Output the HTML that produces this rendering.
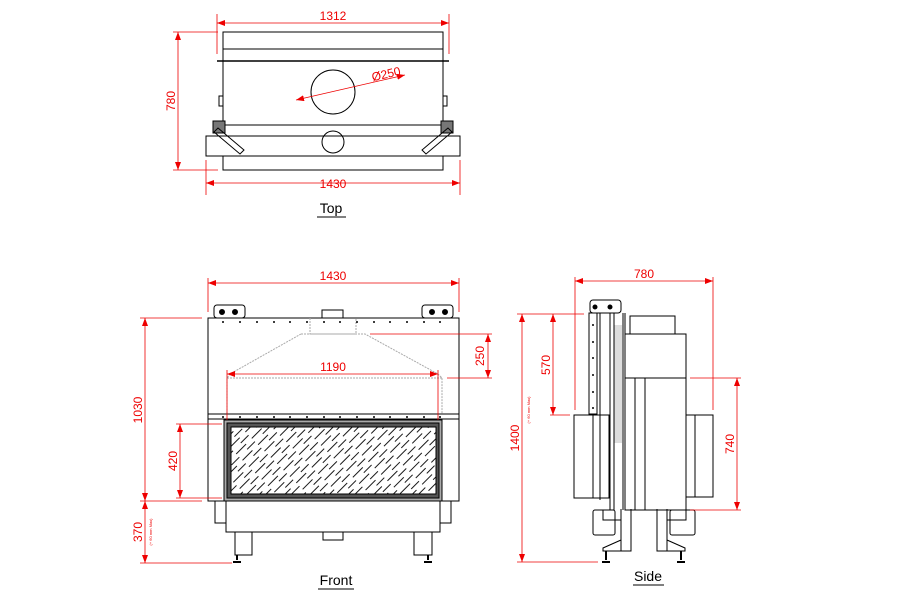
<!DOCTYPE html>
<html><head><meta charset="utf-8"><style>body{margin:0;background:#fff}svg{display:block}</style></head>
<body>
<svg width="900" height="600" viewBox="0 0 900 600" xmlns="http://www.w3.org/2000/svg" font-family="Liberation Sans, sans-serif">
<defs>
<pattern id="h" width="22" height="9" patternUnits="userSpaceOnUse" patternTransform="rotate(-45)">
<line x1="0" y1="2" x2="14" y2="2" stroke="#000" stroke-width="0.9"/>
<line x1="11" y1="6.5" x2="22" y2="6.5" stroke="#000" stroke-width="0.9"/>
</pattern>
<marker id="a" markerWidth="8" markerHeight="6" refX="8" refY="3" orient="auto-start-reverse" markerUnits="userSpaceOnUse"><path d="M0,0 L8,3 L0,6z" fill="#e00"/></marker>
</defs>
<g fill="none" stroke="#000" stroke-width="1">
<!-- TOP VIEW -->
<rect x="223" y="32" width="220" height="93"/>
<line x1="223" y1="49" x2="443" y2="49"/>
<line x1="217" y1="61" x2="449" y2="61" stroke-width="1.5"/>
<rect x="219" y="96" width="4" height="10"/><rect x="443" y="96" width="4" height="10"/>
<circle cx="333" cy="92" r="22"/>
<rect x="206" y="136" width="254" height="20"/>
<rect x="223" y="156" width="220" height="14"/>
<circle cx="333" cy="142" r="11"/>
<rect x="213" y="121" width="12" height="12" fill="#777"/><rect x="441" y="121" width="12" height="12" fill="#777"/>
<path d="M218,128 L244,150 L240,154 L214,132z"/><path d="M448,128 L422,150 L426,154 L452,132z"/>
<!-- FRONT VIEW -->
<rect x="208" y="318" width="251" height="183"/>
<line x1="208" y1="414" x2="459" y2="414"/><line x1="208" y1="419" x2="459" y2="419"/>
<rect x="224" y="420" width="218" height="81" fill="#aaa"/>
<rect x="227" y="423" width="212" height="75" fill="#555"/>
<rect x="231" y="427" width="205" height="67" fill="#fff"/>
<rect x="231" y="427" width="205" height="67" fill="url(#h)" stroke="#000"/>
<rect x="226" y="501" width="214" height="31"/>
<rect x="215" y="501" width="11" height="22"/><rect x="440" y="501" width="11" height="22"/>
<rect x="235" y="532" width="17" height="23"/><rect x="414" y="532" width="18" height="23"/>
<rect x="323" y="532" width="20" height="8"/>
<path d="M237,555 L237,560 M233,562 L241,562 M428,555 L428,560 M424,562 L432,562" stroke-width="2"/>
<rect x="214" y="305" width="31" height="13" rx="3"/><rect x="422" y="305" width="31" height="13" rx="3"/>
<circle cx="222" cy="312" r="2.5" fill="#000"/><circle cx="235" cy="312" r="2.5" fill="#000"/>
<circle cx="432" cy="312" r="2.5" fill="#000"/><circle cx="445" cy="312" r="2.5" fill="#000"/>
<rect x="322" y="310" width="21" height="8"/>
<g stroke="#aaa" stroke-dasharray="2,1"><path d="M310,318 L310,334 L356,334 L356,318"/><path d="M301,334 L365,334 L438,374 L442,378 L442,414 M301,334 L230,374 L227,378 L227,414 M227,378 L442,378"/></g>
<g fill="#000" stroke="none">
<circle cx="223" cy="322" r="1"/><circle cx="240" cy="322" r="1"/><circle cx="257" cy="322" r="1"/><circle cx="274" cy="322" r="1"/><circle cx="290" cy="322" r="1"/><circle cx="307" cy="322" r="1"/><circle cx="324" cy="322" r="1"/><circle cx="340" cy="322" r="1"/><circle cx="357" cy="322" r="1"/><circle cx="374" cy="322" r="1"/><circle cx="390" cy="322" r="1"/><circle cx="407" cy="322" r="1"/><circle cx="424" cy="322" r="1"/><circle cx="440" cy="322" r="1"/>
<circle cx="223" cy="417" r="1"/><circle cx="240" cy="417" r="1"/><circle cx="257" cy="417" r="1"/><circle cx="274" cy="417" r="1"/><circle cx="290" cy="417" r="1"/><circle cx="307" cy="417" r="1"/><circle cx="324" cy="417" r="1"/><circle cx="340" cy="417" r="1"/><circle cx="357" cy="417" r="1"/><circle cx="374" cy="417" r="1"/><circle cx="390" cy="417" r="1"/><circle cx="407" cy="417" r="1"/><circle cx="424" cy="417" r="1"/><circle cx="440" cy="417" r="1"/>
</g>
<!-- SIDE VIEW -->
<rect x="590" y="300" width="31" height="13" rx="3"/>
<circle cx="595" cy="307" r="2" fill="#000"/><circle cx="610" cy="307" r="2" fill="#000"/>
<rect x="589" y="313" width="8" height="101"/>
<line x1="597" y1="313" x2="597" y2="414"/><line x1="600" y1="313" x2="600" y2="500"/><line x1="610" y1="313" x2="610" y2="510"/>
<rect x="614" y="325" width="8" height="118" fill="#ddd" stroke="none"/>
<line x1="614" y1="313" x2="614" y2="510"/><line x1="623" y1="313" x2="623" y2="510"/><line x1="625" y1="313" x2="625" y2="510"/>
<rect x="625" y="334" width="61" height="176"/>
<line x1="625" y1="378" x2="686" y2="378"/><line x1="635" y1="378" x2="635" y2="510"/><line x1="645" y1="378" x2="645" y2="510"/>
<rect x="630" y="316" width="45" height="18"/>
<rect x="686" y="415" width="27" height="82"/><line x1="695" y1="415" x2="695" y2="497"/>
<rect x="574" y="415" width="35" height="83"/><line x1="593" y1="415" x2="593" y2="498"/>
<g fill="#000" stroke="none"><circle cx="593" cy="325" r="1"/><circle cx="593" cy="342" r="1"/><circle cx="593" cy="358" r="1"/><circle cx="593" cy="375" r="1"/><circle cx="593" cy="392" r="1"/><circle cx="593" cy="408" r="1"/></g>
<path d="M603,510 L603,520 L621,520 M621,509 L621,551 L631,551 L631,509 M621,540 L603,548 L603,551 L621,551"/>
<path d="M657,509 L657,551 L667,551 L667,509 M667,540 L685,548 L685,551 L667,551 M667,520 L686,520 L686,510"/>
<rect x="593" y="510" width="22" height="25" rx="2"/><rect x="670" y="510" width="25" height="25" rx="2"/>
<path d="M606,551 L606,560 M602,562 L610,562 M681,551 L681,560 M677,562 L685,562" stroke-width="2"/>
</g>
<!-- DIMENSIONS -->
<g stroke="#e00" stroke-width="0.8" fill="none">
<line x1="217" y1="23" x2="449" y2="23" marker-start="url(#a)" marker-end="url(#a)"/>
<line x1="217" y1="14" x2="217" y2="54"/><line x1="449" y1="14" x2="449" y2="54"/>
<line x1="178" y1="32" x2="178" y2="170" marker-start="url(#a)" marker-end="url(#a)"/>
<line x1="173" y1="32" x2="218" y2="32"/><line x1="173" y1="170" x2="218" y2="170"/>
<line x1="206" y1="183" x2="460" y2="183" marker-start="url(#a)" marker-end="url(#a)"/>
<line x1="206" y1="160" x2="206" y2="195"/><line x1="460" y1="160" x2="460" y2="195"/>
<line x1="296" y1="100" x2="405" y2="75" marker-start="url(#a)" marker-end="url(#a)"/>
<line x1="208" y1="283" x2="459" y2="283" marker-start="url(#a)" marker-end="url(#a)"/>
<line x1="208" y1="278" x2="208" y2="312"/><line x1="459" y1="278" x2="459" y2="312"/>
<line x1="145" y1="318" x2="145" y2="501" marker-start="url(#a)" marker-end="url(#a)"/>
<line x1="140" y1="318" x2="202" y2="318"/><line x1="140" y1="501" x2="202" y2="501"/>
<line x1="145" y1="501" x2="145" y2="563" marker-start="url(#a)" marker-end="url(#a)"/>
<line x1="140" y1="563" x2="232" y2="563"/>
<line x1="180" y1="424" x2="180" y2="498" marker-start="url(#a)" marker-end="url(#a)"/>
<line x1="176" y1="424" x2="222" y2="424"/><line x1="176" y1="498" x2="222" y2="498"/>
<line x1="227" y1="374" x2="438" y2="374" marker-start="url(#a)" marker-end="url(#a)"/>
<line x1="227" y1="370" x2="227" y2="420"/><line x1="438" y1="370" x2="438" y2="420"/>
<line x1="488" y1="334" x2="488" y2="378" marker-start="url(#a)" marker-end="url(#a)"/>
<line x1="370" y1="334" x2="492" y2="334"/><line x1="447" y1="378" x2="492" y2="378"/>
<line x1="575" y1="281" x2="713" y2="281" marker-start="url(#a)" marker-end="url(#a)"/>
<line x1="575" y1="277" x2="575" y2="410"/><line x1="713" y1="277" x2="713" y2="410"/>
<line x1="522" y1="314" x2="522" y2="562" marker-start="url(#a)" marker-end="url(#a)"/>
<line x1="517" y1="314" x2="584" y2="314"/><line x1="517" y1="562" x2="598" y2="562"/>
<line x1="553" y1="314" x2="553" y2="415" marker-start="url(#a)" marker-end="url(#a)"/>
<line x1="550" y1="415" x2="570" y2="415"/>
<line x1="737" y1="378" x2="737" y2="510" marker-start="url(#a)" marker-end="url(#a)"/>
<line x1="690" y1="378" x2="741" y2="378"/><line x1="690" y1="510" x2="741" y2="510"/>
</g>
<g fill="#e00" font-size="12" text-anchor="middle">
<text x="333" y="20">1312</text>
<text x="333" y="188">1430</text>
<text x="387" y="78" transform="rotate(-13 387 78)">Ø250</text>
<text transform="translate(175,101) rotate(-90)">780</text>
<text x="333" y="280">1430</text>
<text x="333" y="371">1190</text>
<text transform="translate(142,410) rotate(-90)">1030</text>
<text transform="translate(177,461) rotate(-90)">420</text>
<text transform="translate(484,356) rotate(-90)">250</text>
<text transform="translate(142,532) rotate(-90)">370</text>
<text font-size="4" transform="translate(152,532) rotate(-90)">(+ 60 mm Max)</text>
<text x="644" y="278">780</text>
<text transform="translate(519,438) rotate(-90)">1400</text>
<text font-size="4" transform="translate(530,410) rotate(-90)">(+ 60 mm Max)</text>
<text transform="translate(550,365) rotate(-90)">570</text>
<text transform="translate(734,444) rotate(-90)">740</text>
</g>
<g font-size="14" text-anchor="middle" fill="#000">
<text x="331" y="213">Top</text><line x1="317" y1="217" x2="346" y2="217" stroke="#000"/>
<text x="336" y="585">Front</text><line x1="318" y1="589" x2="354" y2="589" stroke="#000"/>
<text x="648" y="581">Side</text><line x1="633" y1="585" x2="664" y2="585" stroke="#000"/>
</g>
</svg>
</body></html>
